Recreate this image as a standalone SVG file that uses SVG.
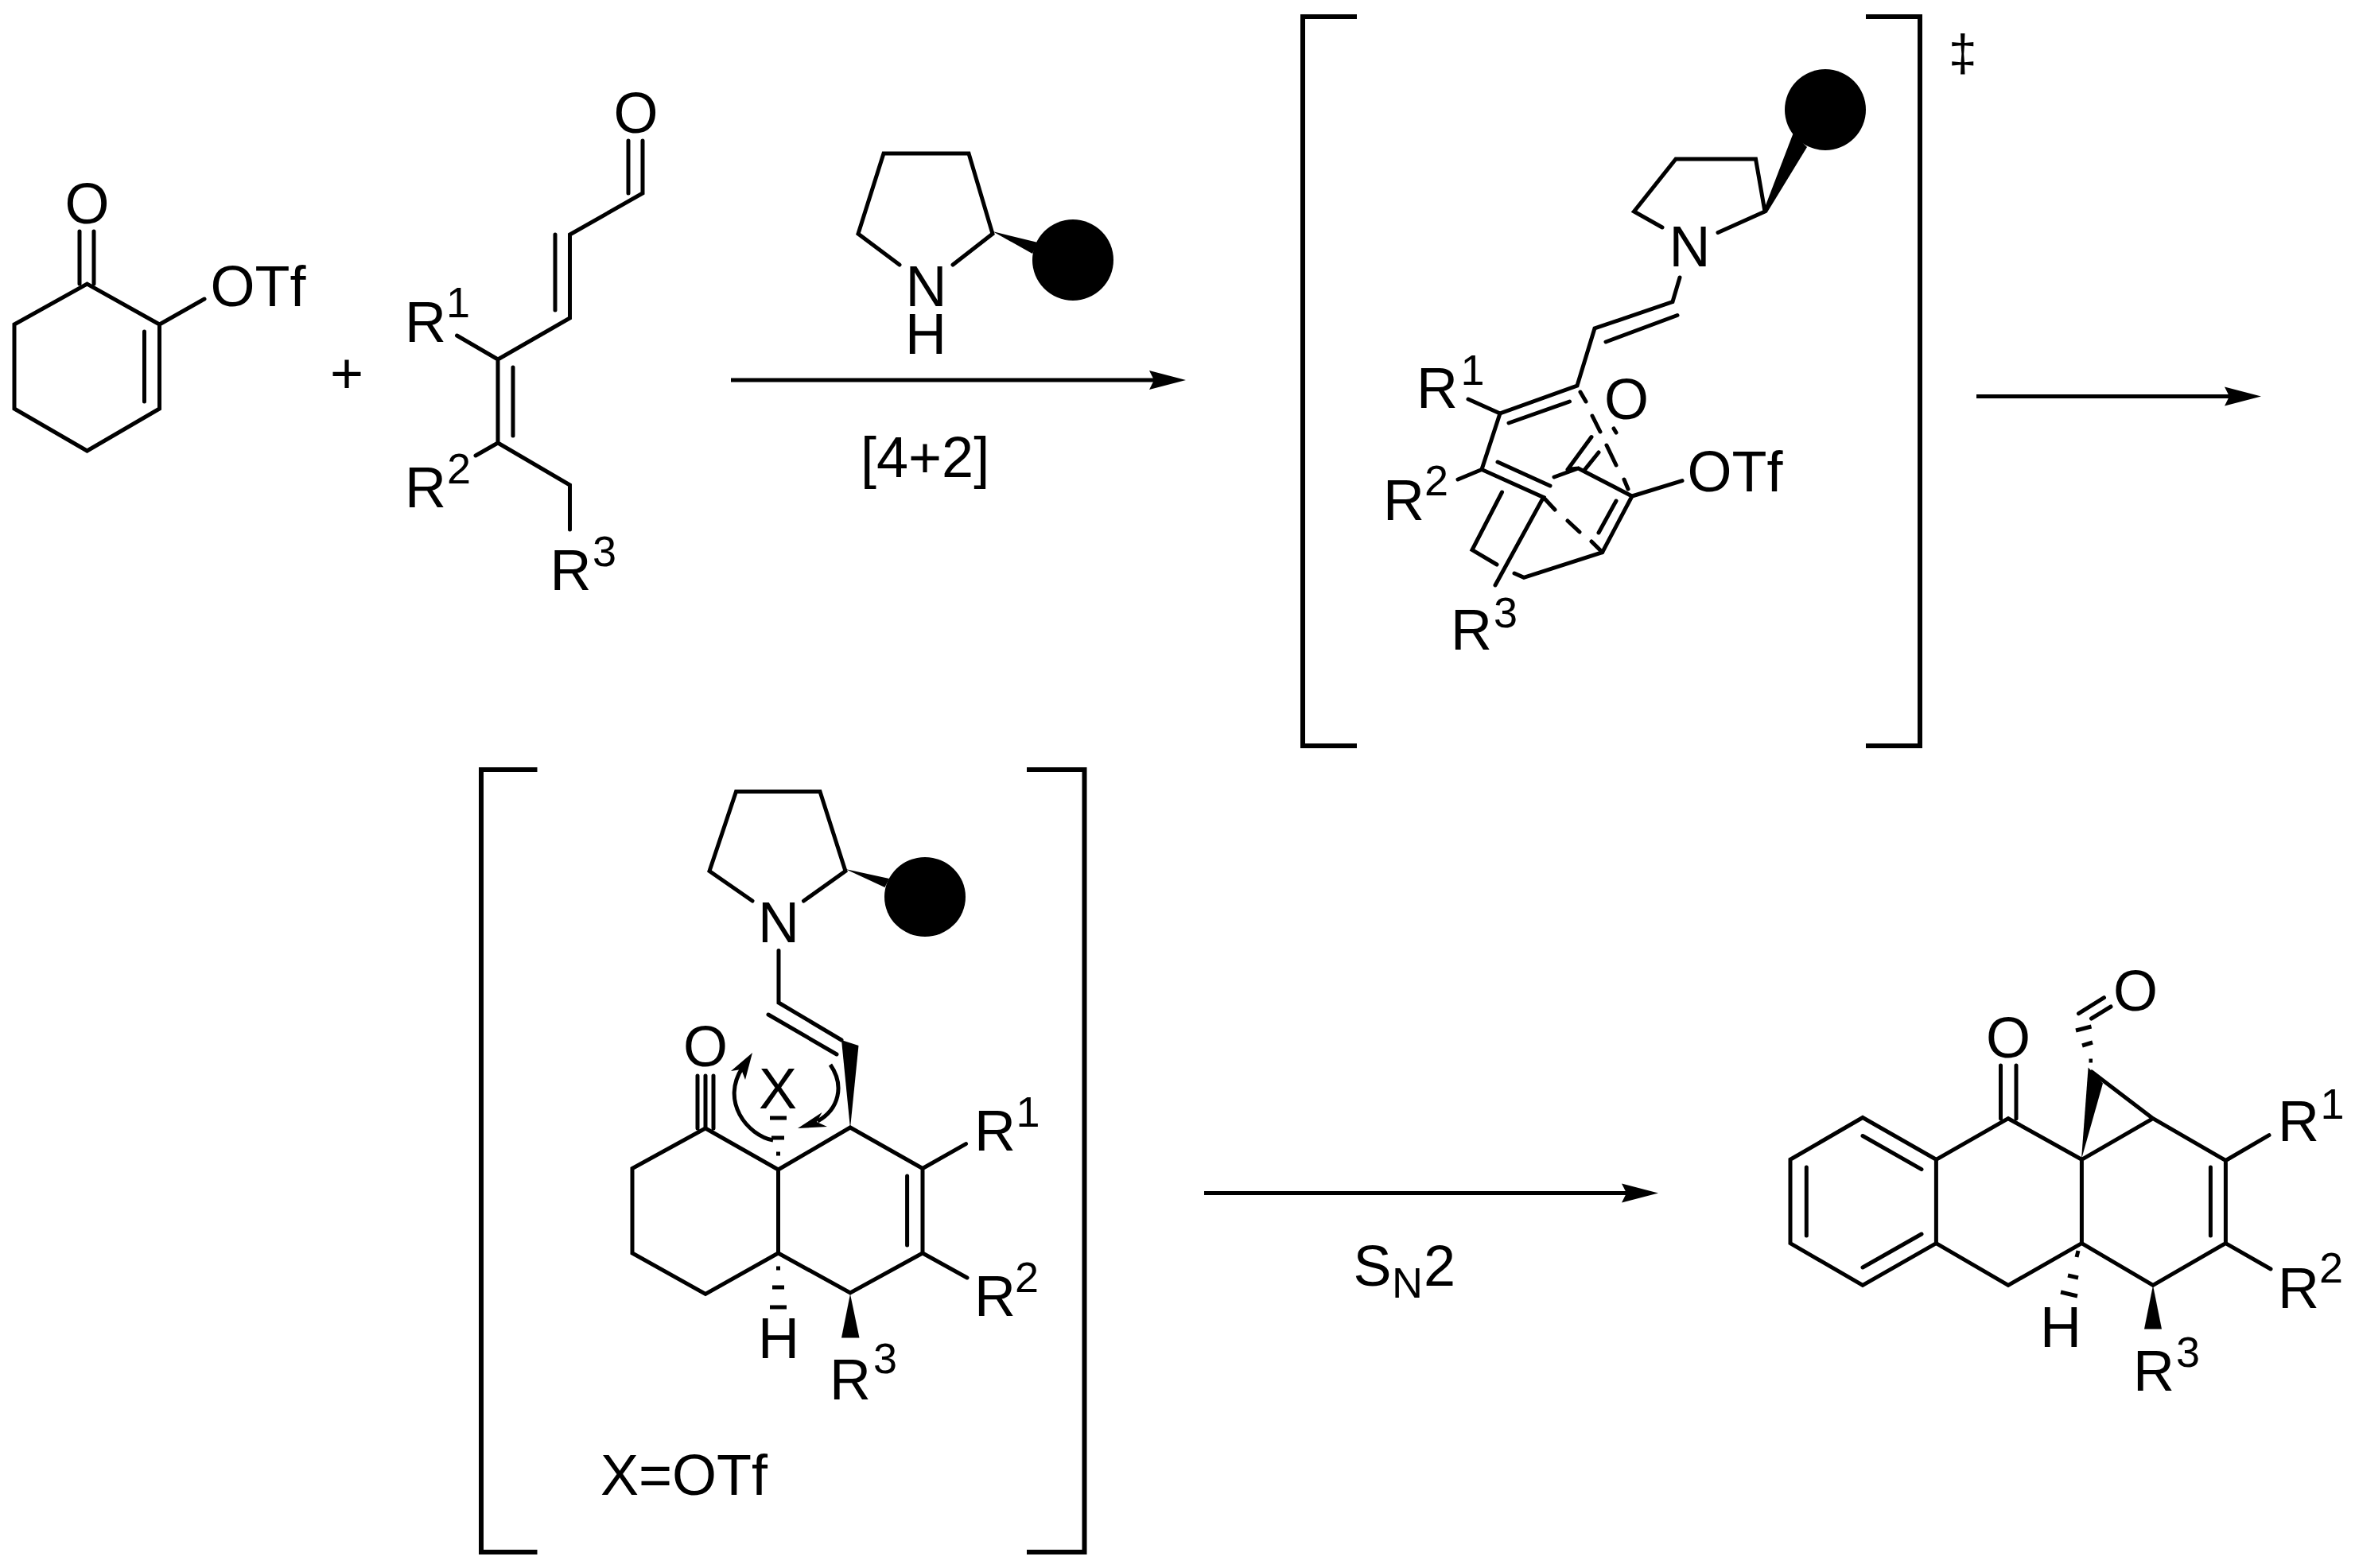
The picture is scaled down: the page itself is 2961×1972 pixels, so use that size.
<svg xmlns="http://www.w3.org/2000/svg" width="2961" height="1972" viewBox="0 0 2961 1972">
<style>
.b{fill:none;stroke:#000;stroke-width:5;stroke-linejoin:miter;stroke-linecap:round}
.h{fill:none;stroke:#000;stroke-width:5;stroke-linecap:butt}
.k{fill:none;stroke:#000;stroke-width:6}
.f{fill:#000;stroke:none}
text{font-family:"Liberation Sans",Arial,sans-serif;font-size:72px;fill:#000}
.s{font-size:54px}
.a{fill:none;stroke:#000;stroke-width:5}
</style>
<defs>
<marker id="head" markerUnits="userSpaceOnUse" markerWidth="50" markerHeight="30" refX="6" refY="15" orient="auto"><path d="M0 3L46 15L0 27L6 15Z" fill="#000"/></marker>
</defs>
<rect width="2961" height="1972" fill="#fff"/>
<g id="connectors">
<line class="a" x1="919" y1="478" x2="1451" y2="478" marker-end="url(#head)"/>
<line class="a" x1="2485" y1="498.500" x2="2803" y2="498.500" marker-end="url(#head)"/>
<line class="a" x1="1514" y1="1500.500" x2="2045" y2="1500.500" marker-end="url(#head)"/>
<text x="1082" y="600">[4+2]</text>
<text x="1701.500" y="1617">S</text><text class="s" x="1750" y="1632">N</text><text x="1790" y="1617">2</text>
<text x="415" y="494">+</text>
</g>
<g id="cyclohexenone">
<path class="b" d="M257 376L200.500 408L200.500 514L109.500 567L18 514L18 408L109.500 357L200.500 408"/>
<path class="b" d="M181.500 417V505M100 291V357M118 291V357"/>
<text x="81.500" y="281">O</text><text x="264.500" y="385">OTf</text>
</g>
<g id="dienal">
<path class="b" d="M808 177V243L716.500 295V400L626 452V557L716.500 610V666M790 177V243M698 295V390M645 462V548M626 452L574.500 422M626 557L598 573"/>
<text x="771.500" y="167">O</text>
<text x="509" y="430">R</text><text class="s" x="561" y="399">1</text>
<text x="509" y="638">R</text><text class="s" x="562" y="608">2</text>
<text x="691.500" y="742">R</text><text class="s" x="745" y="712">3</text>
</g>
<g id="catalyst">
<path class="b" d="M1131 333L1079 294L1111 193H1218L1248 294L1198 333"/>
<path class="f" d="M1248 291L1305 305L1298 319Z"/>
<ellipse class="f" cx="1349" cy="327" rx="51" ry="51"/>
<text x="1138.500" y="385">N</text><text x="1138" y="445">H</text>
</g>
<g id="transition-state">
<path class="k" d="M1706 21H1638V938H1706M2346 21H2414V938H2346"/>
<text x="2450" y="89" style="font-size:64px">‡</text>
<ellipse class="f" cx="2295" cy="138" rx="51" ry="51"/>
<path class="f" d="M2217 266L2254.500 168L2272 185L2222 267Z"/>
<path class="b" d="M2090 286L2054.500 266L2107 200H2207.500L2219 266L2160 292.500"/>
<text x="2098.500" y="335">N</text>
<path class="b" d="M2112 349L2103 379.500L2005 413L1983 485L1886 520L1863 590.500L1940.600 625.500L1880 736M2109 396.500L2019 430M1973.500 505L1897 532M1886 520L1846 502M1863 590.500L1833 603M1883 581L1949 611"/>
<path class="b" d="M1888.500 619L1851 691.600L1882 710M1904 721L1916 726.400L2014.600 694.600L2052 624L1984.400 589L1954 600M2052 624L2115 604.600M2032 630L2010 670M1971 590.600L2001 549.600M1992.600 590.600L2010 569M1984.400 589L1971 590.600"/>
<path class="b" d="M1987 493L1994 505M2002 523L2012 543M2020 560L2032 585M2042 603L2047 615M2029 539L2032 544M1941 626L1955 641M1971 655L1986 669M2001 681L2014.600 694.600"/>
<text x="2017" y="527">O</text><text x="2121.500" y="618">OTf</text>
<text x="1781" y="513">R</text><text class="s" x="1836.500" y="483.500">1</text>
<text x="1739" y="654">R</text><text class="s" x="1791" y="623">2</text>
<text x="1824" y="817">R</text><text class="s" x="1878" y="789">3</text>
</g>
<g id="intermediate">
<path class="k" d="M675.500 968H605V1952H675.500M1291 968H1363.500V1952H1291"/>
<path class="b" d="M946 1133L892 1095.500L925.500 995.500H1031L1063 1095.500L1010.500 1133"/>
<path class="f" d="M1063 1093L1118 1105L1112.500 1116Z"/>
<ellipse class="f" cx="1163" cy="1128" rx="51" ry="50"/>
<text x="953" y="1184.500">N</text>
<path class="b" d="M979 1195.500V1261L1058 1308M966 1276L1052 1326"/>
<path class="f" d="M1069 1419L1058 1308L1079.500 1315Z"/>
<path class="b" d="M887 1353V1419L795 1469.500V1576L887 1627.500L978.500 1576V1471L887 1419M877 1353V1419M897 1353V1419M978.500 1471L1069 1418L1160 1469.500V1576L1069 1626L978.500 1576M1140.600 1479V1566M1160 1469.500L1214.500 1438.600M1160 1576L1216 1607"/>
<path class="f" d="M1069 1627.500L1058 1682.400H1080.500Z"/>
<path class="h" d="M976 1595H981M971 1619H986M968 1644H989M976 1451H981M970 1431H986M968 1406H989"/>
<path class="a" d="M972 1434C940 1428 905 1385 934 1342M1044 1339C1062 1365 1055 1395 1028 1410"/>
<path class="f" d="M946 1324L919 1347L932 1345L937 1358ZM1003 1419L1033.500 1399L1027 1411L1040 1417Z"/>
<text x="859" y="1340.500">O</text><text x="954" y="1393.500">X</text><text x="953" y="1708">H</text>
<text x="1225" y="1447">R</text><text class="s" x="1277.500" y="1417">1</text>
<text x="1225" y="1655">R</text><text class="s" x="1276" y="1625">2</text>
<text x="1043" y="1760">R</text><text class="s" x="1098" y="1727">3</text>
<text x="755" y="1880">X=OTf</text>
</g>
<g id="product">
<path class="b" d="M2342 1405.500L2434.400 1458.300V1563.600L2342 1616.400L2251 1563.600V1458.300ZM2342 1428.500L2416 1470.600M2342 1594L2416 1552M2271.300 1468V1554"/>
<path class="b" d="M2434.400 1458.300L2525 1406.700L2617.400 1458.300V1563.600L2525 1616.400L2434.400 1563.600M2515.500 1340V1406.700M2535 1340V1406.700M2617.400 1458.300L2707 1406.700L2798.400 1459.500V1563.600L2707 1616.400L2617.400 1563.600M2779.400 1468V1554M2798.400 1459.500L2853 1427.700M2798.400 1563.600L2855 1596M2630 1348L2707 1406.700"/>
<path class="f" d="M2617 1458L2625.600 1342.400L2644 1362.600Z"/>
<path class="f" d="M2707 1616.400L2696 1671.500H2718Z"/>
<path class="b" d="M2613.500 1274.600L2645.500 1254.700M2629.500 1281L2654 1266"/>
<path class="h" d="M2626.500 1334H2631M2618 1315L2631 1311M2610 1296L2629.500 1291M2611 1581L2613 1573M2600 1604L2613 1607M2591 1625L2612 1630"/>
<text x="2657" y="1271">O</text><text x="2497" y="1330">O</text><text x="2565" y="1694">H</text>
<text x="2864" y="1435">R</text><text class="s" x="2917.500" y="1407">1</text>
<text x="2864" y="1645">R</text><text class="s" x="2916" y="1613">2</text>
<text x="2682" y="1749">R</text><text class="s" x="2736" y="1719">3</text>
</g>
</svg>
